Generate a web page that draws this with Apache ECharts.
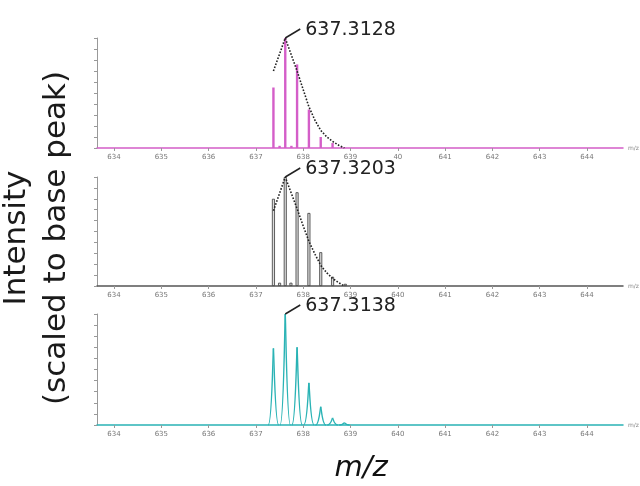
<!DOCTYPE html>
<html>
<head>
<meta charset="utf-8">
<script src="https://cdn.jsdelivr.net/npm/echarts@6/dist/echarts.min.js"></script>
<style>
  html, body { margin: 0; padding: 0; background: #fff; }
  #chart { width: 640px; height: 486px; }
</style>
</head>
<body>
<div id="chart"></div>
<script>
// m/z ticks and labels (top panel shows "40" for 640 as in the source figure)
const xTicks = [634, 635, 636, 637, 638, 639, 640, 641, 642, 643, 644];
const tickLabelsTop = ['634', '635', '636', '637', '638', '639', '40', '641', '642', '643', '644'];
const tickLabelsMid = ['634', '635', '636', '637', '638', '639', '640', '641', '642', '643', '644'];
const tickLabelsBottom = ['634', '635', '636', '637', '638', '639', '640', '641', '642', '643', '644'];

// top panel (magenta sticks)
const peaksTop = [
    [637.37, 0.55], [637.50, 0.02], [637.62, 1.0], [637.75, 0.02],
    [637.87, 0.76], [638.12, 0.35], [638.37, 0.10], [638.62, 0.045]
];
const envelopeTop = [
    [637.37, 0.70], [637.62, 1.0], [637.87, 0.70], [638.0, 0.53], [638.12, 0.375],
    [638.25, 0.25], [638.37, 0.16], [638.5, 0.10], [638.62, 0.06], [638.75, 0.025], [638.87, 0.0]
];

// middle panel (grey sticks)
const peaksMid = [
    [637.37, 0.80], [637.50, 0.03], [637.62, 1.0], [637.74, 0.03],
    [637.87, 0.86], [638.12, 0.67], [638.37, 0.31], [638.62, 0.085], [638.89, 0.02]
];
const envelopeMid = [
    [637.37, 0.69], [637.62, 1.0], [637.87, 0.71], [638.0, 0.55], [638.12, 0.41],
    [638.25, 0.29], [638.37, 0.19], [638.5, 0.12], [638.62, 0.07], [638.75, 0.03], [638.87, 0.0]
];

// bottom panel (teal profile peaks)
const peaksBottom = [
    [637.37, 0.69], [637.62, 1.0], [637.87, 0.70], [638.12, 0.38],
    [638.37, 0.165], [638.62, 0.063], [638.87, 0.02]
];

const basePeakMz = 637.62;
const baseLabels = ['637.3128', '637.3203', '637.3138'];

const MAGENTA = '#d45ec8';
const TEAL = '#2ab3b5';

const chart = echarts.init(document.getElementById('chart'));

function makeX(i, lineColor, labels) {
    return {
        type: 'value', gridIndex: i,
        min: 633.64, max: 644.76,
        axisLine: { lineStyle: { color: lineColor, width: 1.5 } },
        axisTick: { show: true, customValues: xTicks, length: 3, lineStyle: { color: '#999' } },
        axisLabel: {
            customValues: xTicks, fontSize: 7, color: '#777', margin: 6,
            fontFamily: 'DejaVu Sans',
            formatter: v => labels[xTicks.indexOf(Math.round(v))]
        },
        splitLine: { show: false },
        name: 'm/z', nameLocation: 'end', nameGap: 5,
        nameTextStyle: { fontSize: 6, color: '#888', fontFamily: 'DejaVu Sans' }
    };
}

function makeY(i) {
    return {
        type: 'value', gridIndex: i, min: 0, max: 1, interval: 0.1,
        axisLine: { show: true, lineStyle: { color: '#999' } },
        axisTick: { show: true, length: 3, lineStyle: { color: '#999' } },
        axisLabel: { show: false },
        splitLine: { show: false }
    };
}

function envelope(i, data) {
    return {
        type: 'line', xAxisIndex: i, yAxisIndex: i, data: data,
        symbol: 'none', smooth: false, z: 5, silent: true,
        lineStyle: { type: 'dotted', color: '#222', width: 1.6 }
    };
}

function annotation(i) {
    return {
        type: 'custom', xAxisIndex: i, yAxisIndex: i, z: 10, silent: true,
        data: [[basePeakMz, 1.0]],
        renderItem: function (params, api) {
            const p = api.coord([api.value(0), api.value(1)]);
            return {
                type: 'group',
                children: [
                    { type: 'line', shape: { x1: p[0], y1: p[1], x2: p[0] + 15, y2: p[1] - 9 },
                      style: { stroke: '#222', lineWidth: 1.5 } },
                    { type: 'text', x: p[0] + 20, y: p[1] - 8,
                      style: { text: baseLabels[i], font: '19px "DejaVu Sans"', fill: '#222',
                               align: 'left', verticalAlign: 'middle' } }
                ]
            };
        }
    };
}

const option = {
    animation: false,
    grid: [
        { left: 97, right: 17, top: 38, height: 110 },
        { left: 97, right: 17, top: 177, height: 109 },
        { left: 97, right: 17, top: 314, height: 111 }
    ],
    xAxis: [makeX(0, MAGENTA, tickLabelsTop), makeX(1, '#555', tickLabelsMid), makeX(2, TEAL, tickLabelsBottom)],
    yAxis: [makeY(0), makeY(1), makeY(2)],
    graphic: [
        { type: 'text', x: 37, y: 238, rotation: Math.PI / 2,
          style: { text: 'Intensity\n(scaled to base peak)', font: '31px "DejaVu Sans"', fill: '#1a1a1a',
                   align: 'center', verticalAlign: 'middle', lineHeight: 40 } },
        { type: 'text', x: 361, y: 468,
          style: { text: 'm/z', font: 'italic 29px "DejaVu Sans"', fill: '#111',
                   align: 'center', verticalAlign: 'middle' } }
    ],
    series: [
        {
            type: 'bar', xAxisIndex: 0, yAxisIndex: 0, data: peaksTop, barWidth: 2.4,
            itemStyle: { color: MAGENTA }, silent: true
        },
        envelope(0, envelopeTop),
        annotation(0),
        {
            type: 'bar', xAxisIndex: 1, yAxisIndex: 1, data: peaksMid, barWidth: 3,
            itemStyle: { color: '#dcdcdc', borderColor: '#3a3a3a', borderWidth: 0.8 }, silent: true
        },
        envelope(1, envelopeMid),
        annotation(1),
        {
            type: 'custom', xAxisIndex: 2, yAxisIndex: 2, data: peaksBottom, silent: true,
            renderItem: function (params, api) {
                const m = api.value(0), h = api.value(1);
                const top = api.coord([m, h]);
                const base = api.coord([m, 0]);
                const left = api.coord([m - 0.11, 0]);
                const dx = base[0] - left[0];
                const xc = top[0], yt = top[1], y0 = base[1];
                const style = { stroke: TEAL, lineWidth: 1.4, fill: null };
                return {
                    type: 'group',
                    children: [
                        { type: 'bezierCurve', shape: {
                            x1: xc - dx, y1: y0, x2: xc, y2: yt,
                            cpx1: xc - 0.3 * dx, cpy1: y0,
                            cpx2: xc - 0.12 * dx, cpy2: yt + (y0 - yt) * 0.1 }, style: style },
                        { type: 'bezierCurve', shape: {
                            x1: xc, y1: yt, x2: xc + dx, y2: y0,
                            cpx1: xc + 0.12 * dx, cpy1: yt + (y0 - yt) * 0.1,
                            cpx2: xc + 0.3 * dx, cpy2: y0 }, style: style }
                    ]
                };
            }
        },
        annotation(2)
    ]
};

chart.setOption(option);
</script>
</body>
</html>
